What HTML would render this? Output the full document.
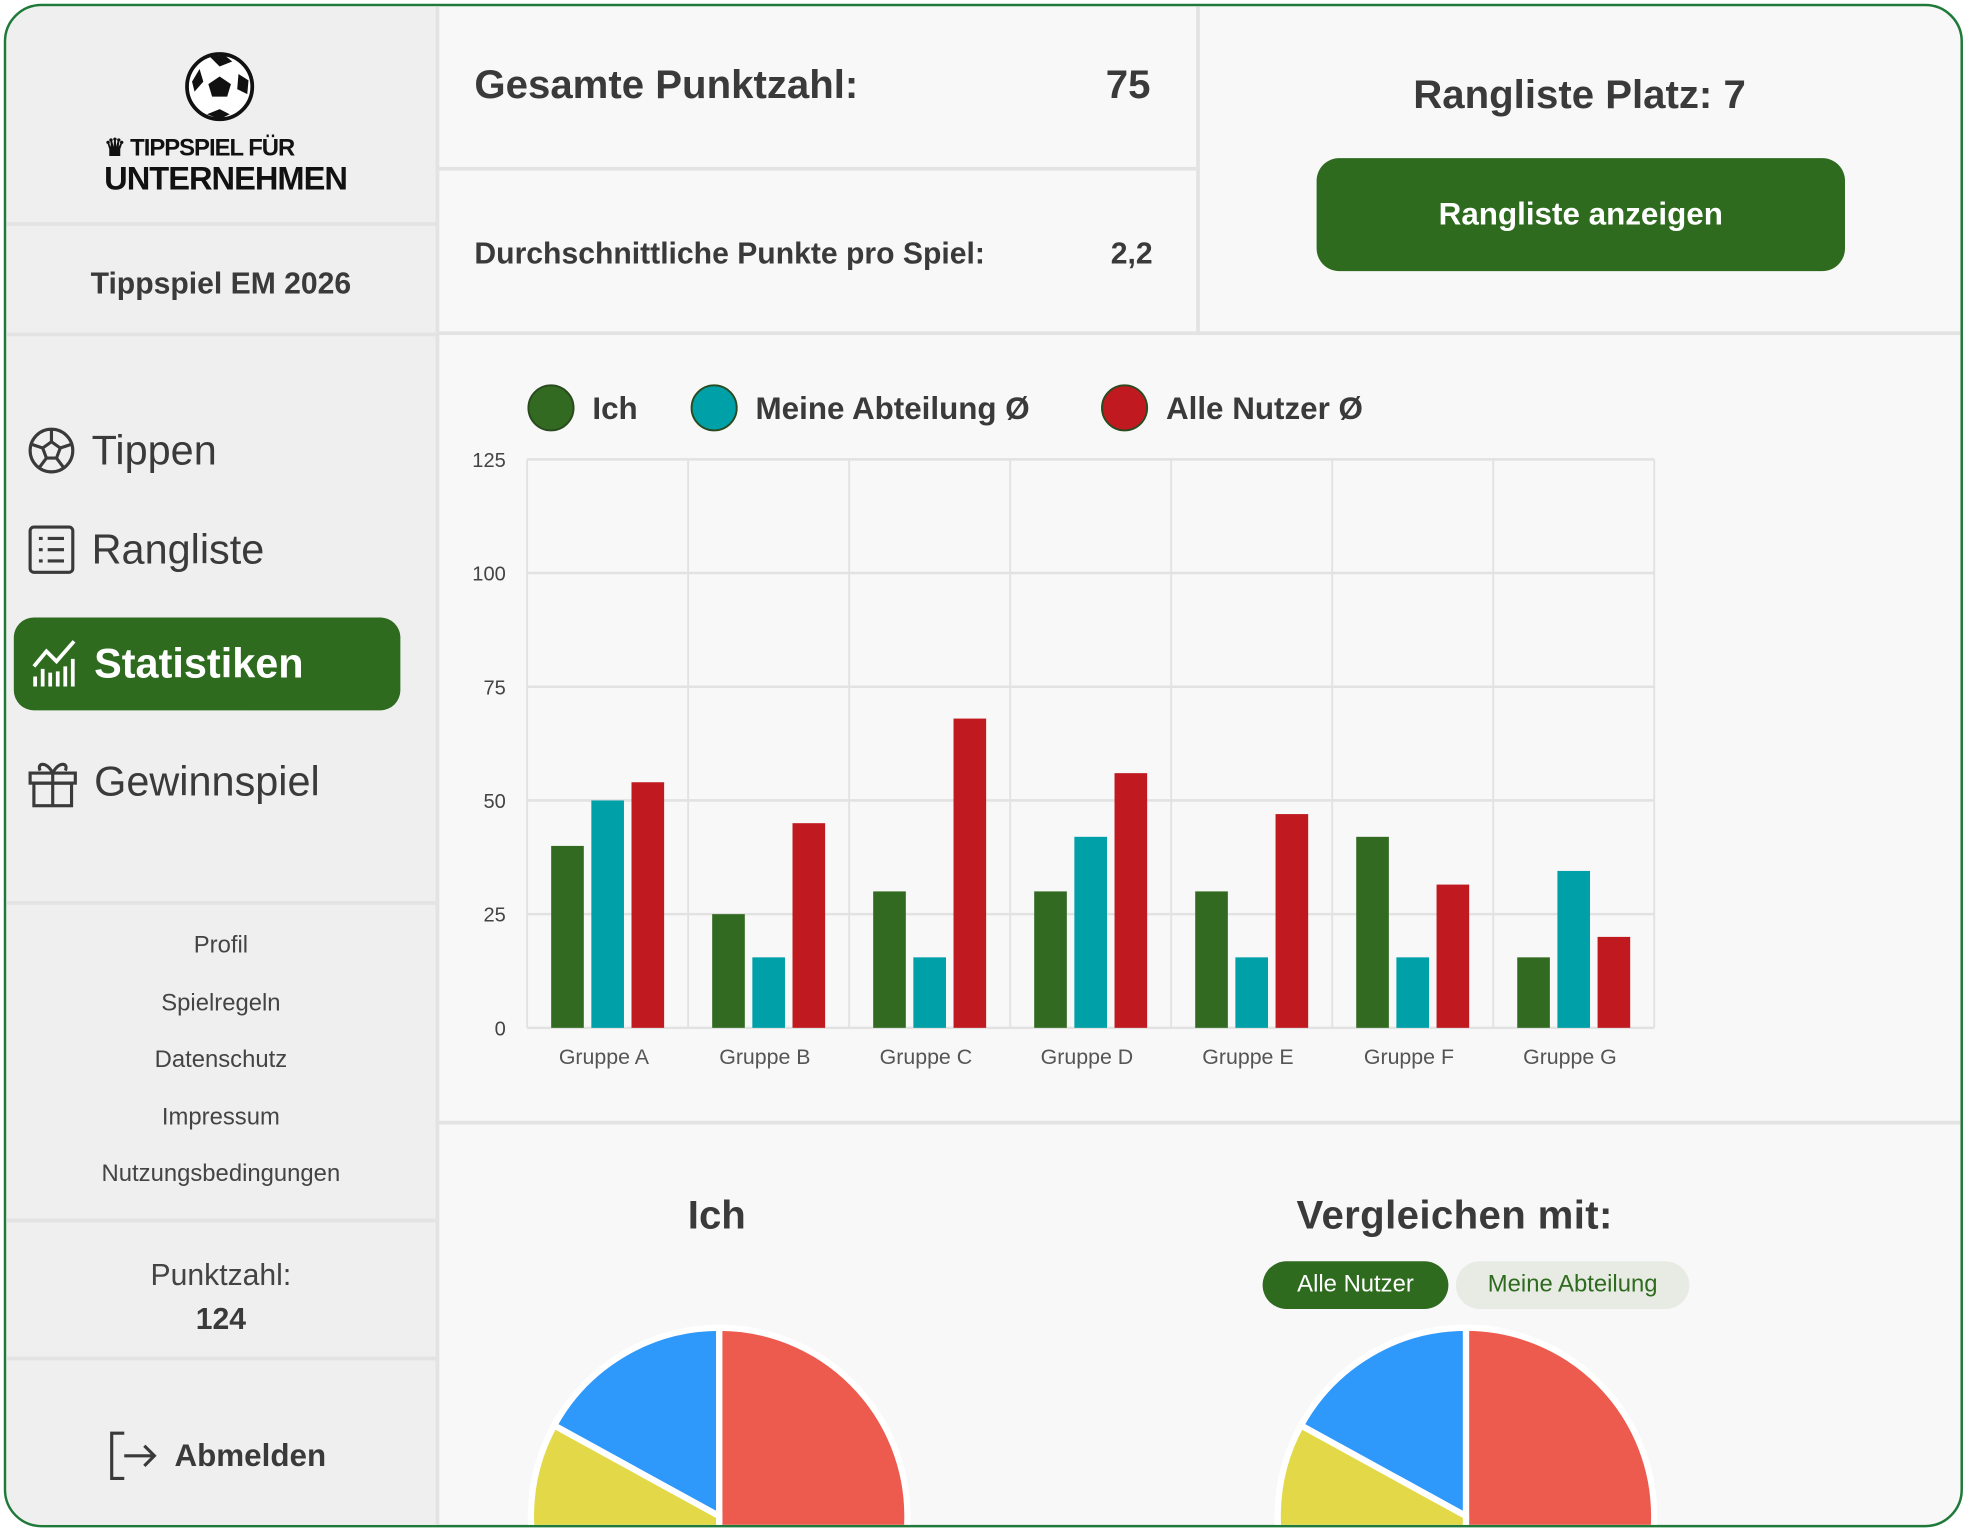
<!DOCTYPE html>
<html><head><meta charset="utf-8">
<style>
html,body{margin:0;padding:0;width:1968px;height:1534px;overflow:hidden;background:#fff;font-family:"Liberation Sans",sans-serif;}
#wrap{position:absolute;left:0;top:0;width:1568px;height:1221px;transform:scale(1.25510,1.2550);transform-origin:0 0;overflow:hidden;}
.frame{position:absolute;left:3px;top:3px;width:1557px;height:1210px;border:2px solid #1f7a3a;border-radius:30px;overflow:hidden;background:#f8f8f8;}
.abs{position:absolute;}
.side{left:0;top:0;width:342px;height:1212px;background:#efefef;border-right:3px solid #e3e3e3;}
.hl{position:absolute;height:3px;background:#e3e3e3;}
.vl{position:absolute;width:3px;background:#e3e3e3;}
.nav{position:absolute;left:16px;font-size:33px;color:#3a3a3a;display:flex;align-items:center;gap:12px;}
.small{position:absolute;width:342px;text-align:center;font-size:19px;color:#444;}
.b{font-weight:bold;color:#3a3a3a;}
</style></head><body>
<div id="wrap">
<div class="frame">
 <div class="abs side">
  <svg class="abs" style="left:140px;top:34px" width="60" height="60" viewBox="0 0 60 60">
   <circle cx="30" cy="30" r="26" fill="#fff" stroke="#111" stroke-width="3"/>
   <polygon points="30,22 39,28 36,38 24,38 21,28" fill="#111"/>
   <path d="M22,6 L34,5 L40,10 L30,14 Z M8,26 L14,16 L17,26 L10,34 Z M45,20 L53,25 L52,36 L44,32 Z M20,52 L30,48 L38,52 L30,56 Z" fill="#111"/>
  </svg>
  <div class="abs" style="left:78px;top:102px;font-size:19px;font-weight:bold;color:#111;letter-spacing:-0.8px">♛ TIPPSPIEL FÜR</div>
  <div class="abs" style="left:78px;top:122px;font-size:26px;font-weight:bold;color:#111;letter-spacing:-0.8px">UNTERNEHMEN</div>
  <div class="hl" style="left:0;top:172px;width:342px"></div>
  <div class="small b" style="top:208px;font-size:24px">Tippspiel EM 2026</div>
  <div class="hl" style="left:0;top:260px;width:342px"></div>
  <div class="nav" style="top:334px"><svg width="40" height="40" viewBox="0 0 40 40"><circle cx="20" cy="20" r="17" fill="none" stroke="#3a3a3a" stroke-width="2.5"/><polygon points="20,13 27,18 24,26 16,26 13,18" fill="none" stroke="#3a3a3a" stroke-width="2.5"/><path d="M20,3V13M27,18L36,15M24,26L30,34M16,26L10,34M13,18L4,15" stroke="#3a3a3a" stroke-width="2.5"/></svg>Tippen</div>
  <div class="nav" style="top:413px"><svg width="40" height="40" viewBox="0 0 40 40"><rect x="3" y="2" width="34" height="36" rx="3" fill="none" stroke="#3a3a3a" stroke-width="2.5"/><path d="M10,11h3M17,11h13M10,20h3M17,20h13M10,29h3M17,29h13" stroke="#3a3a3a" stroke-width="2.5"/></svg>Rangliste</div>
  <div class="abs" style="left:6px;top:487px;width:308px;height:74px;background:#2e6b1f;border-radius:16px;color:#fff;font-size:33px;font-weight:bold;display:flex;align-items:center;gap:10px;padding-left:14px;box-sizing:border-box">
   <svg width="40" height="40" viewBox="0 0 40 40"><path d="M2,22 L12,10 L20,18 L34,2" stroke="#fff" stroke-width="3" fill="none"/><path d="M3,38V30M9,38V24M15,38V27M21,38V26M27,38V22M33,38V16" stroke="#fff" stroke-width="3"/></svg>Statistiken</div>
  <div class="nav" style="top:597px"><svg width="42" height="42" viewBox="0 0 42 42"><rect x="3" y="14" width="36" height="8" fill="none" stroke="#3a3a3a" stroke-width="2.5"/><rect x="6" y="22" width="30" height="18" fill="none" stroke="#3a3a3a" stroke-width="2.5"/><path d="M21,14V40M21,14C16,4 8,6 11,12M21,14C26,4 34,6 31,12" fill="none" stroke="#3a3a3a" stroke-width="2.5"/></svg>Gewinnspiel</div>
  <div class="hl" style="left:0;top:713px;width:342px"></div>
  <div class="small" style="top:738px">Profil</div>
  <div class="small" style="top:784px">Spielregeln</div>
  <div class="small" style="top:829px">Datenschutz</div>
  <div class="small" style="top:875px">Impressum</div>
  <div class="small" style="top:920px">Nutzungsbedingungen</div>
  <div class="hl" style="left:0;top:966px;width:342px"></div>
  <div class="small" style="top:998px;font-size:24px">Punktzahl:</div>
  <div class="small b" style="top:1033px;font-size:24px">124</div>
  <div class="hl" style="left:0;top:1076px;width:342px"></div>
  <div class="abs b" style="left:80px;top:1134px;font-size:25px;display:flex;align-items:center;gap:12px"><svg width="42" height="42" viewBox="0 0 42 42"><path d="M14,3H4V39H14" fill="none" stroke="#3a3a3a" stroke-width="2.5"/><path d="M14,21H38M30,13L38,21L30,29" fill="none" stroke="#3a3a3a" stroke-width="2.5"/></svg>Abmelden</div>
 </div>
 <div class="vl" style="left:948px;top:0;height:262px"></div>
 <div class="hl" style="left:342px;top:128px;width:606px"></div>
 <div class="hl" style="left:342px;top:259px;width:1215px"></div>
 <div class="abs b" style="left:373px;top:44px;font-size:32px">Gesamte Punktzahl:</div>
 <div class="abs b" style="left:876px;top:44px;font-size:32px">75</div>
 <div class="abs b" style="left:373px;top:184px;font-size:24px">Durchschnittliche Punkte pro Spiel:</div>
 <div class="abs b" style="left:880px;top:184px;font-size:24px">2,2</div>
 <div class="abs b" style="left:950px;top:52px;width:607px;text-align:center;font-size:32px">Rangliste Platz: 7</div>
 <div class="abs" style="left:1044px;top:121px;width:421px;height:90px;background:#2e6b1f;border-radius:18px;color:#fff;font-weight:bold;font-size:25px;display:flex;align-items:center;justify-content:center">Rangliste anzeigen</div>
 <svg class="abs" style="left:0;top:0" width="1557" height="1210" id="chart"></svg>
 <div class="hl" style="left:342px;top:888px;width:1215px"></div>
 <div class="abs b" style="left:543px;top:945px;font-size:32px">Ich</div>
 <div class="abs b" style="left:1028px;top:945px;font-size:32px;letter-spacing:0.3px">Vergleichen mit:</div>
 <div class="abs" style="left:1001px;top:1000px;width:148px;height:38px;background:#2e6b1f;border-radius:19px;color:#fff;font-size:19px;display:flex;align-items:center;justify-content:center">Alle Nutzer</div>
 <div class="abs" style="left:1155px;top:1000px;width:186px;height:38px;background:#e7ebe4;border-radius:19px;color:#2e6b1f;font-size:19px;display:flex;align-items:center;justify-content:center">Meine Abteilung</div>
 <svg class="abs" style="left:0;top:0" width="1557" height="1210" id="pies"></svg>
</div>
</div>
<script>
const categories=["Gruppe A","Gruppe B","Gruppe C","Gruppe D","Gruppe E","Gruppe F","Gruppe G"];
const ichValues=[40,25,30,30,30,42,15.5];
const abteilungValues=[50,15.5,15.5,42,15.5,15.5,34.5];
const alleValues=[54,45,68,56,47,31.5,20];
const yTicks=[0,25,50,75,100,125];
const seriesNames=["Ich","Meine Abteilung Ø","Alle Nutzer Ø"];
const seriesColors=["#316a20","#00a0a8","#c01a20"];
const pieIch=[50,33,17];
const pieAlle=[50,33,17];
const pieColors=["#ec5b4e","#e3d948","#2f99fb"];

const NS="http://www.w3.org/2000/svg";
const OX=-5,OY=-5;
const plotL=420+OX,plotR=1318+OX,plotT=366+OY,plotB=819+OY;
const yMax=125;
function y(v){return plotB-(v/yMax)*(plotB-plotT);}
const bandW=(plotR-plotL)/categories.length;
function xc(i){return plotL+bandW*(i+0.5);}
function mk(tag,attrs,parent){const e=document.createElementNS(NS,tag);for(const k in attrs)e.setAttribute(k,attrs[k]);parent.appendChild(e);return e;}
const svg=document.getElementById('chart');
yTicks.forEach(t=>{
 const l=mk('line',{x1:plotL,x2:plotR,y1:y(t),y2:y(t),stroke:'#e2e2e2','stroke-width':2},svg);
 
 
 const tx=mk('text',{x:plotL-17,y:y(t)+6,'text-anchor':'end','font-size':16,fill:'#444','font-family':'Liberation Sans'},svg);
 tx.textContent=t;
 
 
});
for(let i=0;i<=categories.length;i++){
 const x=plotL+bandW*i;
 const l=mk('line',{x1:x,x2:x,y1:plotT,y2:plotB,stroke:'#e2e2e2','stroke-width':1.5},svg);
 
 
}
const allSeries=[ichValues,abteilungValues,alleValues];
categories.forEach((c,i)=>{
 allSeries.forEach((vals,s)=>{
  const bx=xc(i)-45+s*32;
  const r=mk('rect',{x:bx,y:y(vals[i]),width:26,height:plotB-y(vals[i]),fill:seriesColors[s]},svg);
  
  
 });
 const t=mk('text',{x:xc(i)-3,y:plotB+29,'text-anchor':'middle','font-size':17,fill:'#555','font-family':'Liberation Sans'},svg);
 t.textContent=c;
 
 
});
const legX=[439,569,896];
seriesNames.forEach((n,s)=>{
 const cy=325+OY;
 const c=mk('circle',{cx:legX[s]+OX,cy:cy,r:18,fill:seriesColors[s],stroke:'#2a4a20','stroke-width':1.5},svg);
 
 
 const t=mk('text',{x:legX[s]+OX+33,y:cy+9,'font-size':25,'font-weight':'bold',fill:'#3a3a3a','font-family':'Liberation Sans'},svg);
 t.textContent=n;
 
 
});
const ps=document.getElementById('pies');
function pie(cx,cy,r,vals,name){
 const tot=vals.reduce((a,b)=>a+b,0);let a0=0;
 vals.forEach((v,k)=>{
  const a1=a0+v/tot*Math.PI*2;
  const p=[cx+r*Math.sin(a0),cy-r*Math.cos(a0),cx+r*Math.sin(a1),cy-r*Math.cos(a1)];
  const d=`M${cx},${cy}L${p[0]},${p[1]}A${r},${r} 0 ${a1-a0>Math.PI?1:0} 1 ${p[2]},${p[3]}Z`;
  const e=mk('path',{d:d,fill:pieColors[k],stroke:'#fff','stroke-width':5},ps);
  
  
  a0=a1;
 });
}
pie(573+OX,1208+OY,150,pieIch,'pie-ich');
pie(1168+OX,1208+OY,150,pieAlle,'pie-compare');
</script>
</body></html>
